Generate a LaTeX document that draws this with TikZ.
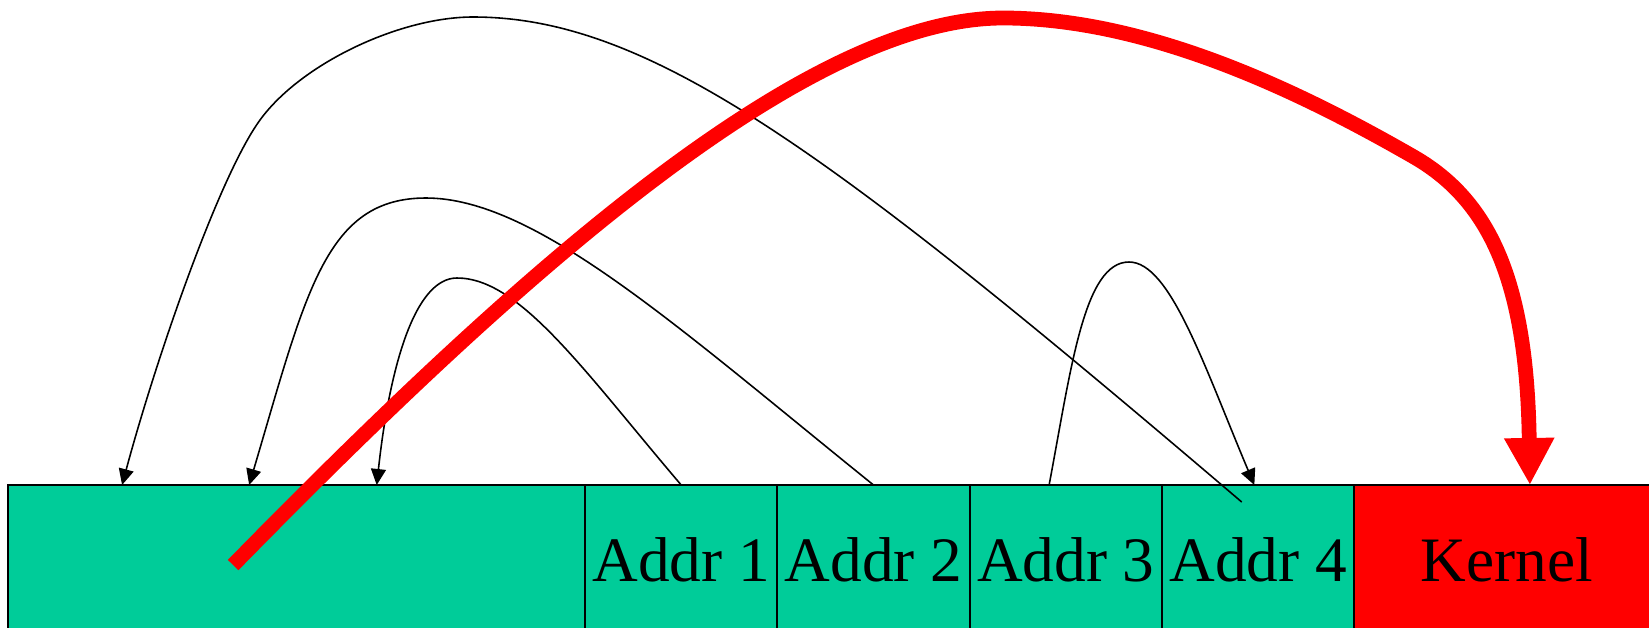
\documentclass[tikz,border=0pt]{standalone}
\usepackage{fontspec}
\setmainfont{Liberation Serif}
\usepackage{tikz}
\usetikzlibrary{positioning, arrows.meta}
\definecolor{cellgreen}{HTML}{00CC99}
\definecolor{kernred}{HTML}{FF0000}

\begin{document}
\begin{tikzpicture}[
  x=0.01cm, y=-0.01cm,
  node distance=0pt,
  cell/.style={draw=black, line width=0.6pt, fill=cellgreen, outer sep=0pt, inner sep=0pt,
               minimum height=1.5cm, minimum width=1.922cm, font=\fontsize{18}{20}\selectfont},
  ptr/.style={-{Triangle[length=1.6mm, width=1.5mm]}, line width=0.45pt, color=black},
  jump/.style={-{Triangle[length=4.7mm, width=4.7mm]}, line width=4.2pt, color=kernred}
]
\useasboundingbox (0,0) rectangle (1649,627);
\clip (0,0) rectangle (1649,627);
\node[cell, minimum width=5.763cm, anchor=north west] (user) at (8.4,485) {};
\node[cell, right=of user]  (addr1) {Addr 1};
\node[cell, right=of addr1] (addr2) {Addr 2};
\node[cell, right=of addr2] (addr3) {Addr 3};
\node[cell, right=of addr3] (addr4) {Addr 4};
\node[cell, fill=kernred, minimum width=3.05cm, right=of addr4] (kernel) {Kernel};
% return pointers
\draw[ptr] ([xshift=-0.164cm, yshift=-0.17cm]addr4.north) .. controls (830,151) and (650,17) .. (473,17)
  .. controls (400,17) and (301.2,63.4) .. (260,120)
  .. controls (218.8,176.6) and (155.8,359.6) .. ([xshift=1.136cm]user.north west);
\draw[ptr] (addr2.north) .. controls (678,327.5) and (536,198) .. (426,198)
  .. controls (325,198) and (306,293) .. ([xshift=2.406cm]user.north west);
\draw[ptr] (addr1.north) .. controls (584,371) and (520,278) .. (457,278)
  .. controls (415,278) and (389.7,366) .. ([xshift=3.681cm]user.north west);
\draw[ptr] ([xshift=-0.167cm]addr3.north) .. controls (1071.3,367.4) and (1084,262) .. (1129,262)
  .. controls (1170,262) and (1203.7,365) .. ([xshift=-0.038cm]addr4.north);
% jump into kernel
\draw[jump] ([xshift=2.246cm, yshift=-0.8cm]user.north west) .. controls (513,279) and (803,18) .. (1003,18)
  .. controls (1153,18) and (1309.6,97) .. (1414,157)
  .. controls (1492,202) and (1527,285) .. ([xshift=0.23cm]kernel.north);
\end{tikzpicture}
\end{document}
